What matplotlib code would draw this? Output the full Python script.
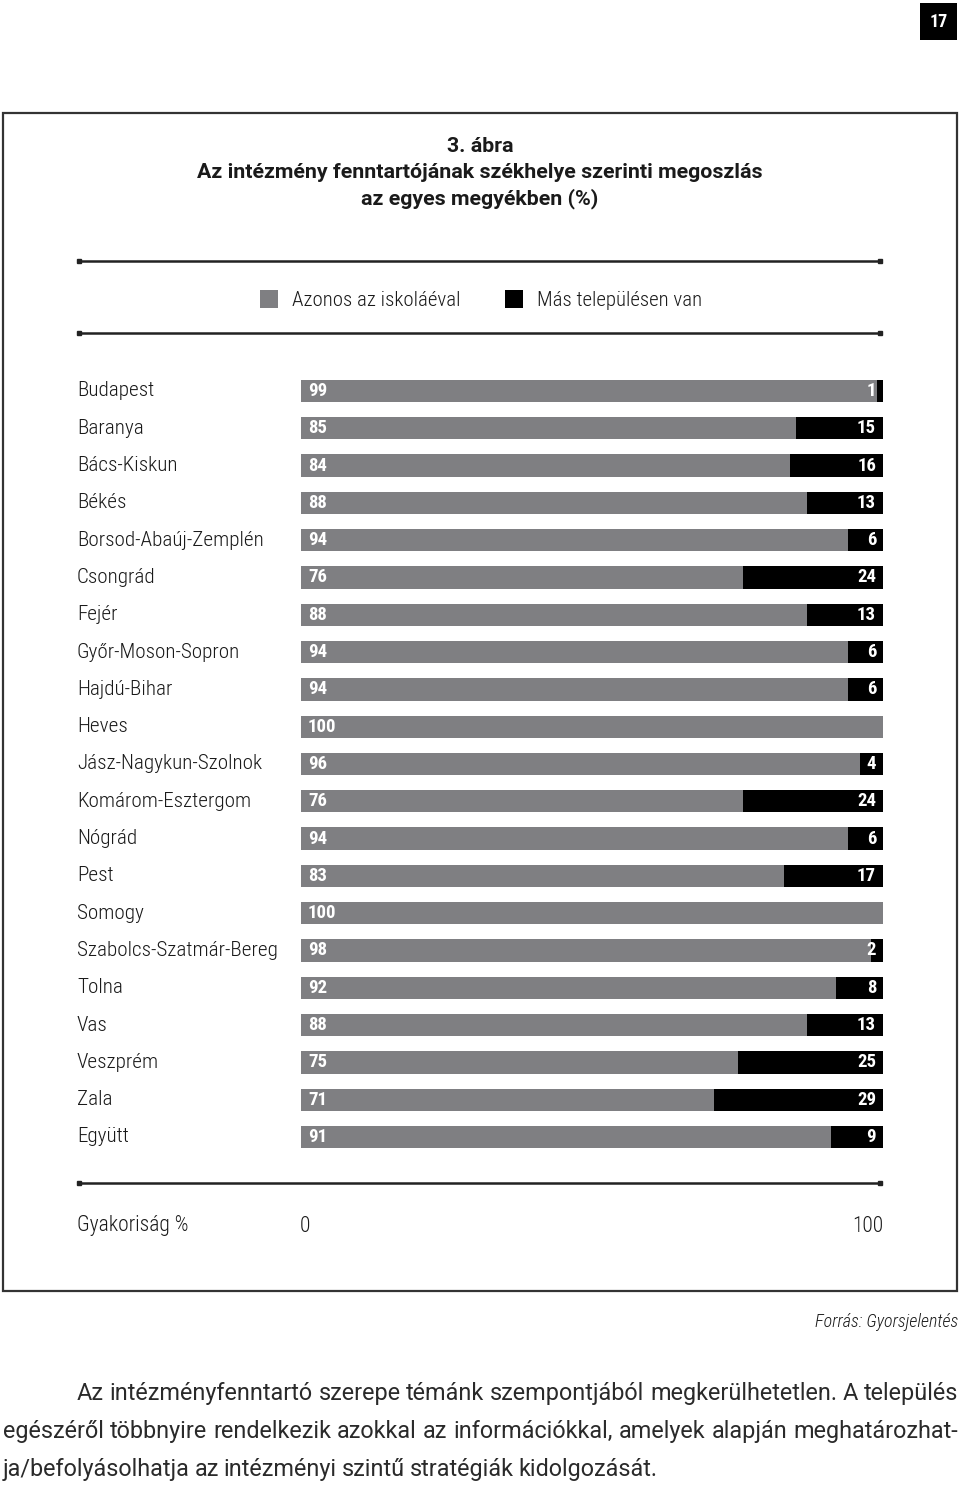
import matplotlib
matplotlib.use("Agg")
import matplotlib.pyplot as plt
import matplotlib.transforms as mtransforms
from matplotlib.lines import Line2D
from matplotlib.patches import Rectangle

# Data
megyek = ["Budapest", "Baranya", "Bács-Kiskun", "Békés", "Borsod-Abaúj-Zemplén",
          "Csongrád", "Fejér", "Győr-Moson-Sopron", "Hajdú-Bihar", "Heves",
          "Jász-Nagykun-Szolnok", "Komárom-Esztergom", "Nógrád", "Pest", "Somogy",
          "Szabolcs-Szatmár-Bereg", "Tolna", "Vas", "Veszprém", "Zala", "Együtt"]
azonos = [99, 85, 84, 88, 94, 76, 88, 94, 94, 100, 96, 76, 94, 83, 100, 98, 92, 88, 75, 71, 91]
mas = [1, 15, 16, 13, 6, 24, 13, 6, 6, 0, 4, 24, 6, 17, 0, 2, 8, 13, 25, 29, 9]

title_lines = ["3. ábra",
               "Az intézmény fenntartójának székhelye szerinti megoszlás",
               "az egyes megyékben (%)"]
legend_labels = ["Azonos az iskoláéval", "Más településen van"]
paragraph = [
    "Az intézményfenntartó szerepe témánk szempontjából megkerülhetetlen. A település",
    "egészéről többnyire rendelkezik azokkal az információkkal, amelyek alapján meghatározhat-",
    "ja/befolyásolhatja az intézményi szintű stratégiák kidolgozását.",
]

GRAY = "#7f7f82"
BLACK = "#000000"
TXT = "#1a1a1a"
W, H = 960, 1485
COND = ["Roboto Condensed", "Archivo Narrow", "DejaVu Sans"]
REG = ["Roboto", "Liberation Sans", "DejaVu Sans"]

fig = plt.figure(figsize=(W / 100, H / 100), dpi=100)


def fx(px):
    return px / W


def fy(py):
    return 1 - py / H


# page number
fig.add_artist(Rectangle((fx(920), fy(40)), fx(37), 37 / H, transform=fig.transFigure,
                         facecolor="black", edgecolor="none"))
fig.text(fx(938.5), fy(22), "17", color="white", fontsize=13, fontweight="bold",
         family=COND, ha="center", va="center")

# frame
fig.add_artist(Rectangle((fx(3), fy(1291)), fx(954), 1178 / H, transform=fig.transFigure,
                         facecolor="none", edgecolor="#333333", linewidth=1.6))

# title
for i, line in enumerate(title_lines):
    fig.text(fx(480), fy(146 + i * 26.5), line, fontsize=15.4, fontweight="bold",
             family=REG, ha="center", va="center", color=TXT)

# rule lines
for yy in [261, 333, 1183]:
    fig.add_artist(Line2D([fx(79), fx(880)], [fy(yy), fy(yy)], transform=fig.transFigure,
                          color="#222222", linewidth=1.8, marker="s", markersize=3.5,
                          markevery=[0, 1]))

# legend
for (x0, col, lab) in [(260, GRAY, legend_labels[0]), (505, BLACK, legend_labels[1])]:
    fig.add_artist(Rectangle((fx(x0), fy(308)), fx(18), 18 / H, transform=fig.transFigure,
                             facecolor=col, edgecolor="none"))
    fig.text(fx(x0 + 32), fy(301), lab, fontsize=15, family=COND, fontweight="light",
             ha="left", va="center", color=TXT)

# bars
ax = fig.add_axes([fx(301), fy(1155.65), fx(582), (1155.65 - 372.35) / H])
ypos = list(range(len(megyek)))
ax.barh(ypos, azonos, height=0.6, color=GRAY, left=0)
ax.barh(ypos, mas, height=0.6, color=BLACK, left=[100 - m for m in mas])
ax.set_xlim(0, 100)
ax.set_ylim(len(megyek) - 0.5, -0.5)
ax.axis("off")

lab_tr = mtransforms.blended_transform_factory(fig.transFigure, ax.transData)
for i, name in enumerate(megyek):
    ax.text(fx(77), i, name, transform=lab_tr, fontsize=15.2, family=COND, fontweight="light",
            ha="left", va="center", color=TXT)
    ax.text(1.2, i, str(azonos[i]), fontsize=13.5, fontweight="bold", family=COND,
            color="white", ha="left", va="center")
    if mas[i] > 0:
        ax.text(98.8, i, str(mas[i]), fontsize=13.5, fontweight="bold", family=COND,
                color="white", ha="right", va="center")

# axis caption
fig.text(fx(77), fy(1226), "Gyakoriság %", fontsize=15.5, family=COND, fontweight="light",
         ha="left", va="center", color=TXT)
fig.text(fx(305), fy(1226), "0", fontsize=15.5, family=COND, fontweight="light",
         ha="center", va="center", color=TXT)
fig.text(fx(883), fy(1226), "100", fontsize=15.5, family=COND, fontweight="light",
         ha="right", va="center", color=TXT)

# source
fig.text(fx(958), fy(1322), "Forrás: Gyorsjelentés", fontsize=13, family=COND,
         style="italic", fontweight="light", ha="right", va="center", color=TXT)

# justified paragraph
renderer = fig.canvas.get_renderer()
starts = [77, 3, 3]
for k, line in enumerate(paragraph):
    y = fy(1400 + k * 38)
    words = line.split(" ")
    texts = [fig.text(0, y, w, fontsize=16.8, family=REG, fontweight="normal", ha="left",
                      va="baseline", color="#2a2a2a") for w in words]
    widths = [t.get_window_extent(renderer).width for t in texts]
    if k < len(paragraph) - 1:
        gap = (958 - starts[k] - sum(widths)) / (len(words) - 1)
    else:
        gap = 4.8
    x = starts[k]
    for t, w in zip(texts, widths):
        t.set_x(fx(x))
        x += w + gap

fig.savefig("out.png", dpi=100, facecolor="white")
